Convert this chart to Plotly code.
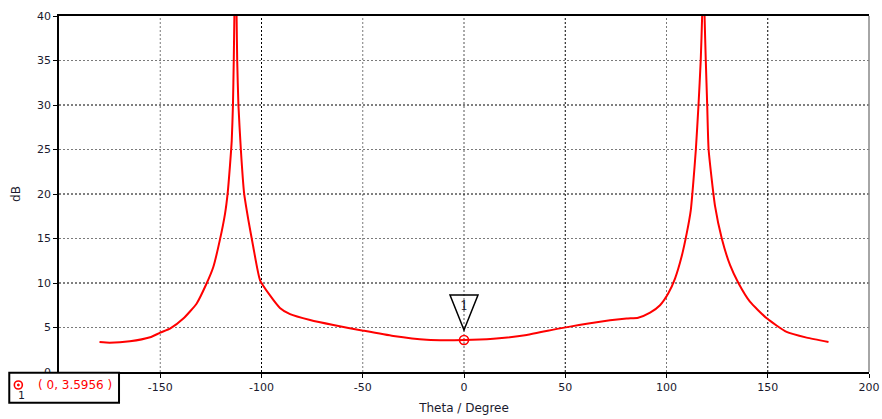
import plotly.graph_objects as go

# Far-field cut: gain in dB versus theta
theta_deg = [
    -180, -175, -165, -155, -150, -145, -138.6, -132, -127.4, -123.8,
    -120.5, -118, -116.7, -115.6, -114.7, -114.1, -113.7, -113.4, -113.0,
    -112.6, -112.3, -112.0, -111.4, -110.2, -108.6, -106.5, -104.1, -100.7,
    -95.8, -90.9, -85.9, -76, -64.5, -49.7, -34.9, -18.4, 0, 14.5, 31, 47.4,
    63.9, 80.3, 86.0, 91.9, 96.8, 100.9, 104.2, 107.5, 110, 112, 113.2, 114.5,
    115.8, 116.9, 117.6, 118.0, 118.4, 118.8, 119.4, 120.1, 120.8, 124, 127.3,
    131.4, 135.5, 141.2, 149.5, 159.3, 169.2, 180,
]
gain_db = [
    3.37, 3.30, 3.45, 3.90, 4.42, 4.90, 6.0, 7.7, 9.8, 11.8,
    14.9, 17.8, 20.1, 23.1, 26.0, 30.0, 35.0, 40.0, 46.0,
    46.0, 40.0, 35.0, 30.0, 25.0, 20.1, 17.1, 14.1, 10.3,
    8.6, 7.2, 6.5, 5.84, 5.28, 4.64, 4.04, 3.62, 3.5956, 3.74, 4.16, 4.9,
    5.54, 6.0, 6.1, 6.67, 7.5, 8.84, 10.5, 13.0, 15.6, 18.2, 21.2, 25.0,
    30.0, 35.0, 40.0, 46.0, 46.0, 40.0, 35.0, 30.0, 25.0, 18.6, 15.0,
    12.0, 10.0, 7.9, 6.03, 4.5, 3.86, 3.37,
]

x_ticks = [-150, -100, -50, 0, 50, 100, 150, 200]
y_ticks = [0, 5, 10, 15, 20, 25, 30, 35, 40]
x_grid_dark = [-100, 50, 150]
y_grid_dark = [10, 20, 30]

marker_theta = 0
marker_gain = 3.5956
marker_id = "1"

RED = "#ff0000"
INK = "#1a1a2e"

fig = go.Figure()

fig.add_trace(go.Scatter(
    x=theta_deg, y=gain_db, mode="lines",
    line=dict(color=RED, width=2, shape="spline", smoothing=0.5),
    hoverinfo="skip", showlegend=False,
))
fig.add_trace(go.Scatter(
    x=[marker_theta], y=[marker_gain], mode="markers",
    marker=dict(symbol="circle-open-dot", size=9, color=RED, line=dict(width=1.6)),
    showlegend=False, cliponaxis=False,
))

shapes = []
# dotted grid
for v in x_ticks[:-1]:
    col = "#000000" if v in x_grid_dark else ("#555555" if v == 0 else "#7a7a7a")
    shapes.append(dict(type="line", xref="x", yref="paper", x0=v, x1=v, y0=0, y1=1,
                       line=dict(color=col, width=1, dash="2px,2px"), layer="below"))
for v in y_ticks[1:-1]:
    col = "#000000" if v in y_grid_dark else "#7a7a7a"
    shapes.append(dict(type="line", xref="paper", yref="y", x0=0, x1=1, y0=v, y1=v,
                       line=dict(color=col, width=1, dash="2px,2px"), layer="below"))
# right frame edge
shapes.append(dict(type="line", xref="paper", yref="paper", x0=1, x1=1, y0=0, y1=1,
                   line=dict(color="#888888", width=1.5)))
# marker flag (inverted triangle above the point)
shapes.append(dict(type="path", xref="x", yref="y", xsizemode="pixel", ysizemode="pixel",
                   xanchor=marker_theta, yanchor=marker_gain,
                   path="M -14,45 L 14,45 L 0,10 Z",
                   line=dict(color="#000000", width=1.5), fillcolor="rgba(255,255,255,0)"))
# marker readout box
shapes.append(dict(type="rect", xref="paper", yref="paper",
                   x0=-0.0614, x1=0.0741, y0=-0.0862, y1=-0.002,
                   line=dict(color="#000000", width=2), fillcolor="#ffffff", layer="above"))
shapes.append(dict(type="circle", xref="paper", yref="paper", xsizemode="pixel", ysizemode="pixel",
                   xanchor=-0.0502, yanchor=-0.0365, x0=-4, x1=4, y0=-4, y1=4,
                   line=dict(color=RED, width=1.6), layer="above"))
shapes.append(dict(type="circle", xref="paper", yref="paper", xsizemode="pixel", ysizemode="pixel",
                   xanchor=-0.0502, yanchor=-0.0365, x0=-1, x1=1, y0=-1, y1=1,
                   line=dict(color=RED, width=1), fillcolor=RED, layer="above"))

annotations = [
    dict(x=marker_theta, y=marker_gain, xref="x", yref="y", text=marker_id, showarrow=False,
         yshift=35, font=dict(family="DejaVu Serif", size=13, color=INK)),
    dict(x=-0.0290, y=-0.0365, xref="paper", yref="paper", xanchor="left", yanchor="middle",
         text=f"( {marker_theta}, {marker_gain} )", showarrow=False,
         font=dict(family="DejaVu Sans", size=12, color=RED)),
    dict(x=-0.0460, y=-0.066, xref="paper", yref="paper", xanchor="center", yanchor="middle",
         text=marker_id, showarrow=False,
         font=dict(family="DejaVu Sans", size=11, color=INK)),
]

fig.update_layout(
    width=882, height=419,
    margin=dict(l=59, r=13, t=16, b=47, autoexpand=False),
    paper_bgcolor="#ffffff", plot_bgcolor="#ffffff",
    font=dict(family="DejaVu Sans", size=11, color=INK),
    shapes=shapes, annotations=annotations,
    xaxis=dict(
        range=[-200, 200], tickvals=x_ticks, ticktext=[str(v) for v in x_ticks],
        showgrid=False, zeroline=False, showline=True, linecolor="#000000", linewidth=1.5,
        mirror=True, ticks="outside", ticklen=4, tickcolor="#000000", automargin=False,
        title=dict(text="Theta / Degree", standoff=11, font=dict(size=12)),
    ),
    yaxis=dict(
        range=[0, 40], tickvals=y_ticks, ticktext=[str(v) for v in y_ticks],
        showgrid=False, zeroline=False, showline=True, linecolor="#000000", linewidth=1.5,
        ticks="outside", ticklen=4, tickcolor="#000000", automargin=False,
        title=dict(text="dB", standoff=14, font=dict(size=12)),
    ),
)

fig.write_html("out.html")
